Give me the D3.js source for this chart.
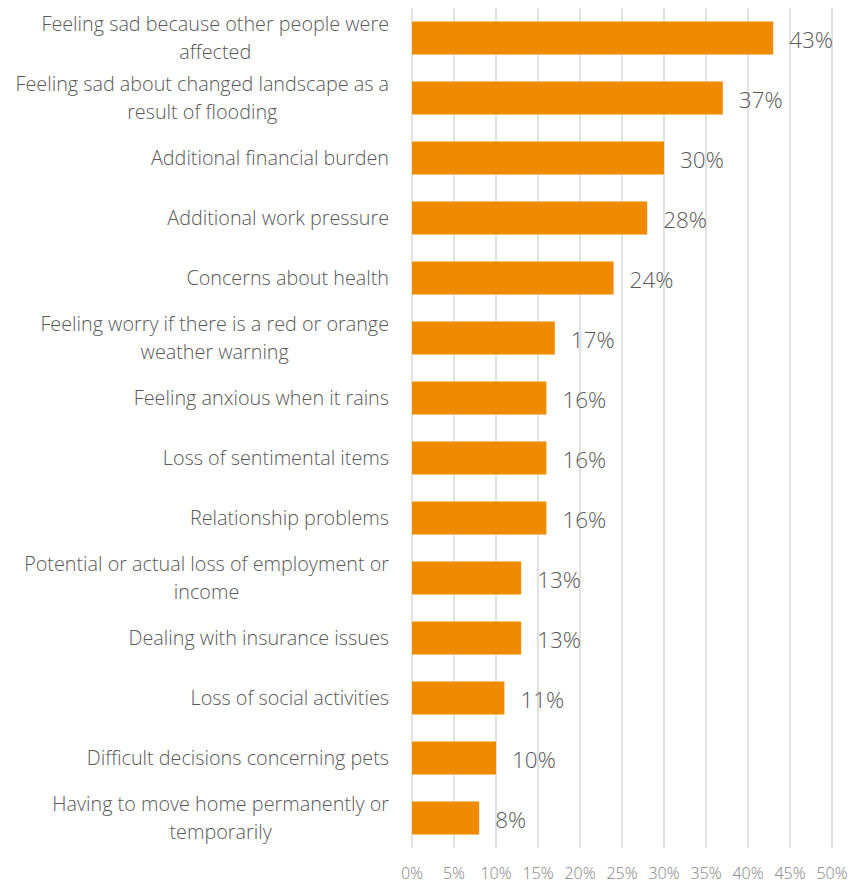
<!DOCTYPE html>
<html>
<head>
<meta charset="utf-8">
<script src="https://cdn.jsdelivr.net/npm/d3@7"></script>
<style>
  body { margin: 0; background: #fff; }
  svg { display: block; font-family: "Open Sans", "Noto Sans", sans-serif; font-weight: 300; }
</style>
</head>
<body>
<svg id="chart" width="850" height="883"></svg>
<script>
// Survey responses: impacts experienced after flooding
const categories = [
  ["Feeling sad because other people were", "affected"],
  ["Feeling sad about changed landscape as a", "result of flooding"],
  ["Additional financial burden"],
  ["Additional work pressure"],
  ["Concerns about health"],
  ["Feeling worry if there is a red or orange", "weather warning"],
  ["Feeling anxious when it rains"],
  ["Loss of sentimental items"],
  ["Relationship problems"],
  ["Potential or actual loss of employment or", "income"],
  ["Dealing with insurance issues"],
  ["Loss of social activities"],
  ["Difficult decisions concerning pets"],
  ["Having to move home permanently or", "temporarily"]
];
const values = [43, 37, 30, 28, 24, 17, 16, 16, 16, 13, 13, 11, 10, 8];
const ticks = [0, 5, 10, 15, 20, 25, 30, 35, 40, 45, 50];

const svg = d3.select("#chart");
const plot = { left: 412, right: 832, top: 8, bottom: 848 };

const x = d3.scaleLinear().domain([0, 50]).range([plot.left, plot.right]);
const y = d3.scaleBand().domain(d3.range(values.length))
  .range([plot.top, plot.bottom]).paddingInner(0.45).paddingOuter(0.225);

// vertical gridlines
svg.append("g").selectAll("line").data(ticks).join("line")
  .attr("x1", d => x(d)).attr("x2", d => x(d))
  .attr("y1", plot.top).attr("y2", plot.bottom)
  .attr("stroke", "#d9d9d9").attr("stroke-width", 1.5);

// x axis tick labels
svg.append("g").selectAll("text").data(ticks).join("text")
  .attr("x", d => x(d)).attr("y", 878.5)
  .attr("text-anchor", "middle")
  .attr("font-size", 16).attr("fill", "#7f7f7f")
  .text(d => d + "%");

// bars
svg.append("g").selectAll("rect").data(values).join("rect")
  .attr("x", x(0)).attr("y", (d, i) => y(i))
  .attr("width", d => x(d) - x(0)).attr("height", y.bandwidth())
  .attr("fill", "#f08a00");

// value labels
svg.append("g").selectAll("text").data(values).join("text")
  .attr("x", d => x(d) + 16).attr("y", (d, i) => y(i) + y.bandwidth() / 2 + 2)
  .attr("dy", "0.35em")
  .attr("font-size", 22.5).attr("fill", "#595959")
  .text(d => d + "%");

// category labels: each block centred on its widest line, right edge at the axis gap
const lineH = 28;
const cat = svg.append("g").selectAll("text").data(categories).join("text")
  .attr("text-anchor", "middle")
  .attr("font-size", 19.8).attr("fill", "#595959")
  .attr("y", (d, i) => y(i) + y.bandwidth() / 2 - (d.length - 1) * lineH / 2);
cat.each(function (d) {
  const t = d3.select(this);
  d.forEach((line, j) => {
    t.append("tspan").attr("dy", j === 0 ? "0.35em" : lineH).text(line);
  });
  const spans = t.selectAll("tspan").nodes();
  const maxW = d3.max(spans, s => s.getComputedTextLength());
  spans.forEach(s => d3.select(s).attr("x", 389 - maxW / 2));
});
</script>
</body>
</html>
